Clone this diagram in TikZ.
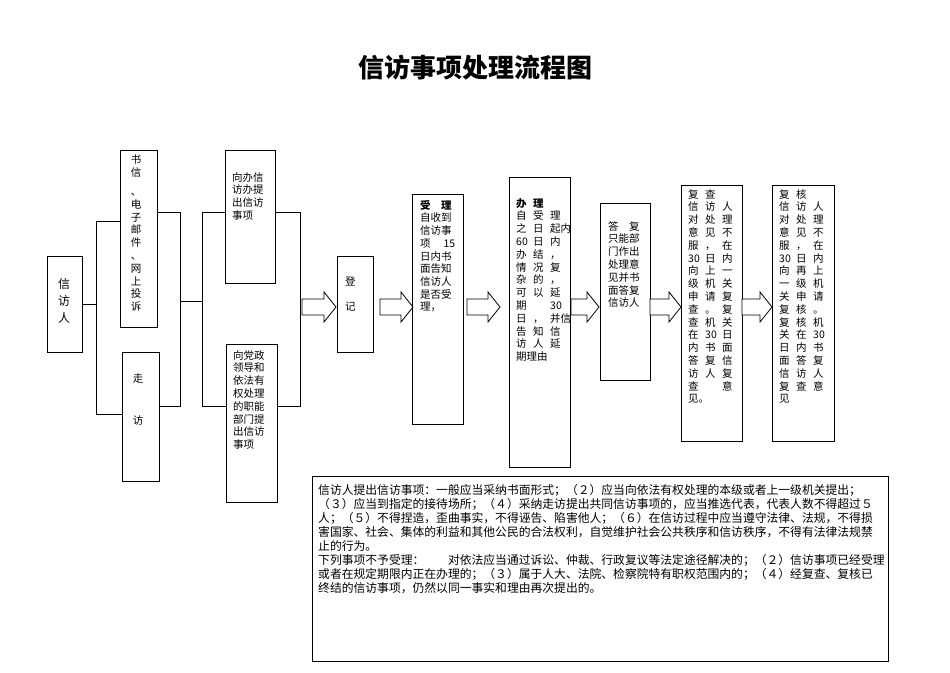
\documentclass[tikz,border=0pt]{standalone}
\usepackage{fontspec}
\usepackage{array}
\setmainfont{Noto Sans CJK SC}
\begin{document}
\begin{tikzpicture}[x=1pt,y=-1pt,
  box/.style={draw,line width=0.8pt},
  ln/.style={line width=0.8pt},
  txt/.style={anchor=north west,inner sep=0pt,font=\fontsize{10.5}{12.8}\selectfont,align=left},
  barrow/.style={draw,line width=0.8pt,fill=white}]
\useasboundingbox (0,0) rectangle (950,672);
\newcommand\barr[3]{\draw[barrow] (#1,#3-8) -- (#2-12,#3-8) -- (#2-12,#3-15) -- (#2,#3) -- (#2-12,#3+15) -- (#2-12,#3+8) -- (#1,#3+8) -- cycle;}
\newcolumntype{Q}{p{11pt}}
\node[font=\fontsize{26}{30}\selectfont\bfseries] (title) at (475,68) {信访事项处理流程图};
% boxes
\draw[box] (47,256) rectangle (82,352) coordinate (xfr);
\node[txt,align=center,anchor=north,font=\fontsize{12}{17}\selectfont] (t1) at (64,278) {信\\访\\人};
\draw[box] (120,150) rectangle (157,327);
\node[txt,align=center,anchor=north] (t2) at (136,155) {书\\信\\[6pt]、\\电\\子\\邮\\件\\、\\网\\上\\投\\诉};
\draw[box] (122,352) rectangle (159,481);
\node[txt,anchor=north] (t3) at (138,373) {走};
\node[txt,anchor=north] (t4) at (138,415) {访};
\draw[box] (225,150) rectangle (275,283);
\node[txt] (t5) at (232,172) {向办信\\访办提\\出信访\\事项};
\draw[box] (226,344) rectangle (277,502);
\node[txt] (t6) at (233,350) {向党政\\领导和\\依法有\\权处理\\的职能\\部门提\\出信访\\事项};
\draw[box] (337,256) rectangle (373,352);
\node[txt] (t7) at (345,276) {登};
\node[txt] (t8) at (345,302) {记};
\draw[box] (412,194) rectangle (463,424);
\node[txt,font=\fontsize{10.5}{12.7}\selectfont] (t9) at (420,200) {\textbf{受　理}\\自收到\\信访事\\项　 15\\日内书\\面告知\\信访人\\是否受\\理，};
\draw[box] (509,177) rectangle (570,467);
\node[txt,font=\fontsize{10.5}{12.8}\selectfont] (t10) at (516,198) {\begin{tabular}{@{}Q@{\hspace{6pt}}Q@{\hspace{6pt}}l@{}}
\textbf{办}&\textbf{理}&\\ 自&受&理\\ 之&日&起内\\ 60&日&内\\ 办&结&，\\ 情&况&复\\ 杂&的&，\\ 可&以&延\\ 期&&30\\ 日&，&并信\\ 告&知&信\\ 访&人&延\\ \multicolumn{3}{@{}l}{期理由}\end{tabular}};
\draw[box] (600,203) rectangle (650,380);
\node[txt] (t11) at (608,221) {答　复\\只能部\\门作出\\处理意\\见并书\\面答复\\信访人};
\draw[box] (681,185) rectangle (742,441);
\node[txt,font=\fontsize{10.5}{12.8}\selectfont] (t12) at (688,189) {\begin{tabular}{@{}Q@{\hspace{6pt}}Q@{\hspace{6pt}}l@{}}
复&查&\\ 信&访&人\\ 对&处&理\\ 意&见&不\\ 服&，&在\\ 30&日&内\\ 向&上&一\\ 级&机&关\\ 申&请&复\\ 查&。&复\\ 查&机&关\\ 在&30&日\\ 内&书&面\\ 答&复&信\\ 访&人&复\\ 查&&意\\ 见。&&\end{tabular}};
\draw[box] (772,185) rectangle (834,441);
\node[txt,font=\fontsize{10.5}{12.8}\selectfont] (t13) at (779,189) {\begin{tabular}{@{}Q@{\hspace{6pt}}Q@{\hspace{6pt}}l@{}}
复&核&\\ 信&访&人\\ 对&处&理\\ 意&见&不\\ 服&，&在\\ 30&日&内\\ 向&再&上\\ 一&级&机\\ 关&申&请\\ 复&核&。\\ 复&核&机\\ 关&在&30\\ 日&内&书\\ 面&答&复\\ 信&访&人\\ 复&查&意\\ 见&&\end{tabular}};
% connectors
\draw[ln] (82,304) -- (96,304);
\draw[ln] (120,221) -- (96,221) -- (96,414) -- (122,414);
\draw[ln] (157,212) -- (180,212) -- (180,406) -- (159,406);
\draw[ln] (180,301) -- (202,301);
\draw[ln] (225,212) -- (202,212) -- (202,406) -- (226,406);
\draw[ln] (275,212) -- (300,212) -- (300,406) -- (277,406);
\barr{302}{336}{307}
\barr{380}{413}{307}
\barr{467}{500}{307}
\barr{571}{599}{307}
\barr{650}{681}{307}
\barr{742}{772}{307}
% bottom text
\draw[box] (312,476) rectangle (888,661);
\node[txt,font=\fontsize{11.8}{14}\selectfont] (t14) at (318,484) {信访人提出信访事项：一般应当采纳书面形式；（２）应当向依法有权处理的本级或者上一级机关提出；\\（３）应当到指定的接待场所；（４）采纳走访提出共同信访事项的，应当推选代表，代表人数不得超过５\\人；（５）不得捏造，歪曲事实，不得诬告、陷害他人；（６）在信访过程中应当遵守法律、法规，不得损\\害国家、社会、集体的利益和其他公民的合法权利，自觉维护社会公共秩序和信访秩序，不得有法律法规禁\\止的行为。\\下列事项不予受理：　　对依法应当通过诉讼、仲裁、行政复议等法定途径解决的；（２）信访事项已经受理\\或者在规定期限内正在办理的；（３）属于人大、法院、检察院特有职权范围内的；（４）经复查、复核已\\终结的信访事项，仍然以同一事实和理由再次提出的。};
\end{tikzpicture}
\end{document}
